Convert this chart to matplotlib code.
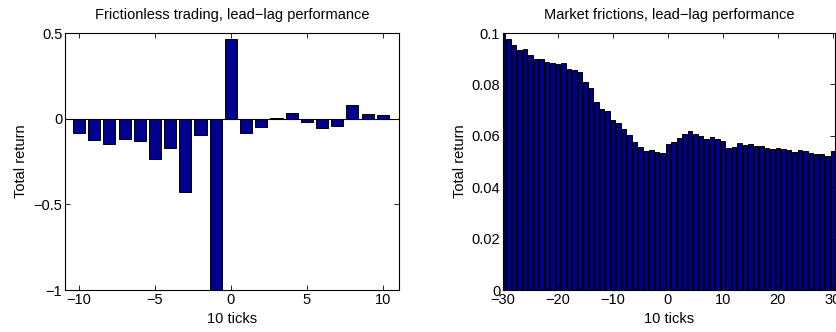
import numpy as np
import matplotlib
matplotlib.use('Agg')
import matplotlib.pyplot as plt

plt.rcParams['font.family'] = ['Liberation Sans', 'DejaVu Sans']
plt.rcParams['font.size'] = 10.5

# frictionless trading, lags -10..10
lags_a = np.arange(-10, 11)
ret_a = [-0.083, -0.122, -0.148, -0.119, -0.128, -0.235, -0.172, -0.427, -0.093, -1.1,
         0.468, -0.085, -0.049, 0.002, 0.034, -0.022, -0.055, -0.042, 0.081, 0.030, 0.020]

# market frictions, lags -30..30
lags_b = np.arange(-30, 31)
ret_b = [0.0997, 0.0977, 0.0953, 0.0933, 0.0938, 0.0914, 0.0900, 0.0898, 0.0889, 0.0885,
         0.0881, 0.0883, 0.0861, 0.0856, 0.0847, 0.0808, 0.0785, 0.0731, 0.0706, 0.0698,
         0.0663, 0.0650, 0.0626, 0.0604, 0.0575, 0.0558, 0.0539, 0.0545, 0.0538, 0.0535,
         0.0570, 0.0576, 0.0591, 0.0608, 0.0618, 0.0608, 0.0598, 0.0589, 0.0597, 0.0588,
         0.0578, 0.0552, 0.0557, 0.0574, 0.0565, 0.0569, 0.0562, 0.0562, 0.0554, 0.0548,
         0.0552, 0.0549, 0.0543, 0.0538, 0.0543, 0.0541, 0.0534, 0.0531, 0.0530, 0.0523,
         0.0539]

bar_col = '#00008F'

fig = plt.figure(figsize=(8.36, 3.32), dpi=100)
ax1 = fig.add_axes([0.0778, 0.1265, 0.3995, 0.774])
ax2 = fig.add_axes([0.6017, 0.1265, 0.3971, 0.774])

def style(ax):
    ax.tick_params(direction='in', top=True, right=True, length=3.5, width=0.6, pad=2)
    for s in ax.spines.values():
        s.set_linewidth(0.8)

ax1.bar(lags_a, ret_a, width=0.8, color=bar_col, edgecolor='black', linewidth=0.7)
ax1.axhline(0, color='black', lw=0.8)
ax1.set_xlim(-10.92, 11.07)
ax1.set_ylim(-1, 0.5)
ax1.set_xticks([-10, -5, 0, 5, 10])
ax1.set_yticks([-1, -0.5, 0, 0.5])
ax1.set_yticklabels(['\u22121', '\u22120.5', '0', '0.5'])
ax1.set_title('Frictionless trading, lead\u2212lag performance', fontsize=10.5, pad=10)
ax1.set_xlabel('10 ticks', labelpad=4)
ax1.set_ylabel('Total return', labelpad=4)
style(ax1)

ax2.bar(lags_b, ret_b, width=0.8, color=bar_col, edgecolor='black', linewidth=0.7)
ax2.set_xlim(-30, 30.4)
ax2.set_ylim(0, 0.1)
ax2.set_xticks([-30, -20, -10, 0, 10, 20, 30])
ax2.set_yticks([0, 0.02, 0.04, 0.06, 0.08, 0.1])
ax2.set_yticklabels(['0', '0.02', '0.04', '0.06', '0.08', '0.1'])
ax2.set_title('Market frictions, lead\u2212lag performance', fontsize=10.5, pad=10)
ax2.set_xlabel('10 ticks', labelpad=4)
ax2.set_ylabel('Total return', labelpad=3)
style(ax2)

fig.savefig('out.png', dpi=100)
